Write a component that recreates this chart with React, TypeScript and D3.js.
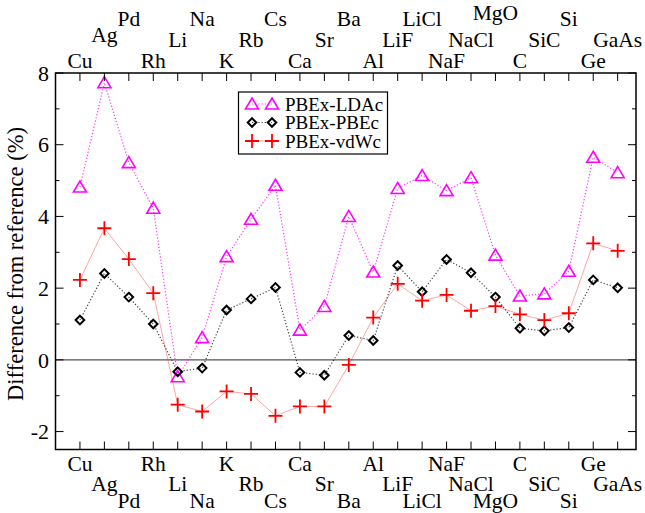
import React from 'react';
import * as d3 from 'd3';

const categories = ['Cu','Ag','Pd','Rh','Li','Na','K','Rb','Cs','Ca','Sr','Ba','Al','LiF','LiCl','NaF','NaCl','MgO','C','SiC','Si','Ge','GaAs'];
const ldac = [4.82,7.73,5.5,4.23,-0.47,0.62,2.88,3.92,4.87,0.83,1.49,4.0,2.45,4.78,5.14,4.72,5.08,2.92,1.78,1.84,2.47,5.65,5.22];
const pbec = [1.11,2.41,1.75,1.0,-0.33,-0.23,1.39,1.70,2.02,-0.35,-0.43,0.68,0.54,2.63,1.90,2.80,2.43,1.75,0.88,0.81,0.90,2.23,2.01];
const vdwc = [2.23,3.67,2.81,1.86,-1.25,-1.44,-0.88,-0.95,-1.56,-1.30,-1.30,-0.14,1.18,2.12,1.65,1.81,1.37,1.50,1.27,1.11,1.30,3.25,3.04];
const yTicks = [-2,0,2,4,6,8];
const yMinorTicks = [-1,1,3,5,7];
const seriesNames = ['PBEx-LDAc','PBEx-PBEc','PBEx-vdWc'];
const yTitle = 'Difference from reference (%)';

const W = 645, H = 513;
const L = 55.5, R = 636, T = 73, B = 449.5;
const FONT = "'Liberation Serif', 'Times New Roman', Times, serif";
const txt = { fontFamily: FONT };

function Marker({ kind, x, y }: { kind: number; x: number; y: number }) {
  if (kind === 0) {
    return <path d={`M${x},${y - 6}L${x + 6.5},${y + 5}L${x - 6.5},${y + 5}Z`} fill="none" stroke="#ff00ff" strokeWidth={1.6} />;
  }
  if (kind === 1) {
    const s = 4.3;
    return <path d={`M${x},${y - s}L${x + s},${y}L${x},${y + s}L${x - s},${y}Z`} fill="none" stroke="#000" strokeWidth={2} />;
  }
  const s = 7;
  return <path d={`M${x - s},${y}L${x + s},${y}M${x},${y - s}L${x},${y + s}`} fill="none" stroke="#ff0000" strokeWidth={1.8} />;
}

export default function App() {
  const x = d3.scaleLinear().domain([-1, 22.75]).range([L, R]);
  const y = d3.scaleLinear().domain([-2.5, 8]).range([B, T]);
  const series = [ldac, pbec, vdwc];
  const lineStyles = [
    { stroke: '#ff00ff', dash: '1.2,2', width: 1.2, opacity: 0.8 },
    { stroke: '#000', dash: '1.2,2', width: 1.2, opacity: 0.75 },
    { stroke: '#ff0000', dash: '', width: 0.8, opacity: 0.45 },
  ];
  const line = d3.line<number>().x((_, i) => x(i)).y(d => y(d));
  const botBase = [471, 490.5, 508];
  const topBase = [68, 46.5, 26];
  const topOffset: Record<string, number> = { Ag: -5, MgO: -6 };

  return (
    <svg width={W} height={H} style={{ position: 'absolute', left: 0, top: 0 }}>
      <rect x={0} y={0} width={W} height={H} fill="#fff" />
      <line x1={L} x2={R} y1={y(0)} y2={y(0)} stroke="#555" strokeWidth={1.4} />
      {series.map((s, k) => (
        <path key={k} d={line(s) || ''} fill="none" stroke={lineStyles[k].stroke}
          strokeDasharray={lineStyles[k].dash} strokeWidth={lineStyles[k].width} opacity={lineStyles[k].opacity} />
      ))}
      {series.map((s, k) => s.map((v, i) => <Marker key={`${k}-${i}`} kind={k} x={x(i)} y={y(v)} />))}
      <rect x={L} y={T} width={R - L} height={B - T} fill="none" stroke="#000" strokeWidth={1.5} />
      {categories.map((c, i) => (
        <g key={c}>
          <line x1={x(i)} x2={x(i)} y1={B} y2={B - 8} stroke="#000" strokeWidth={1} />
          <line x1={x(i)} x2={x(i)} y1={T} y2={T + 8} stroke="#000" strokeWidth={1} />
          <text x={x(i)} y={botBase[i % 3]} textAnchor="middle" fontSize={21.5} style={txt}>{c}</text>
          <text x={x(i)} y={topBase[i % 3] + (topOffset[c] || 0)} textAnchor="middle" fontSize={21.5} style={txt}>{c}</text>
        </g>
      ))}
      {yTicks.map(t => (
        <g key={t}>
          <line x1={L} x2={L + 8} y1={y(t)} y2={y(t)} stroke="#000" strokeWidth={1} />
          <line x1={R} x2={R - 8} y1={y(t)} y2={y(t)} stroke="#000" strokeWidth={1} />
          <text x={49} y={y(t)} dy="0.35em" textAnchor="end" fontSize={22} style={txt}>{t}</text>
        </g>
      ))}
      {yMinorTicks.map(t => (
        <g key={t}>
          <line x1={L} x2={L + 4} y1={y(t)} y2={y(t)} stroke="#000" strokeWidth={1} />
          <line x1={R} x2={R - 4} y1={y(t)} y2={y(t)} stroke="#000" strokeWidth={1} />
        </g>
      ))}
      <text transform={`translate(23,264) rotate(-90)`} textAnchor="middle" fontSize={22.5} style={txt}>{yTitle}</text>
      <rect x={238.5} y={92} width={149} height={62} fill="#fff" stroke="#000" strokeWidth={1.2} />
      {seriesNames.map((n, k) => {
        const ly = 104 + k * 18.5;
        return (
          <g key={n}>
            <line x1={252} x2={272} y1={ly} y2={ly} stroke={lineStyles[k].stroke} strokeDasharray={lineStyles[k].dash}
              strokeWidth={lineStyles[k].width} opacity={lineStyles[k].opacity} />
            <Marker kind={k} x={252} y={ly} />
            <Marker kind={k} x={272} y={ly} />
            <text x={285} y={ly} dy="0.35em" fontSize={19} style={txt}>{n}</text>
          </g>
        );
      })}
    </svg>
  );
}
